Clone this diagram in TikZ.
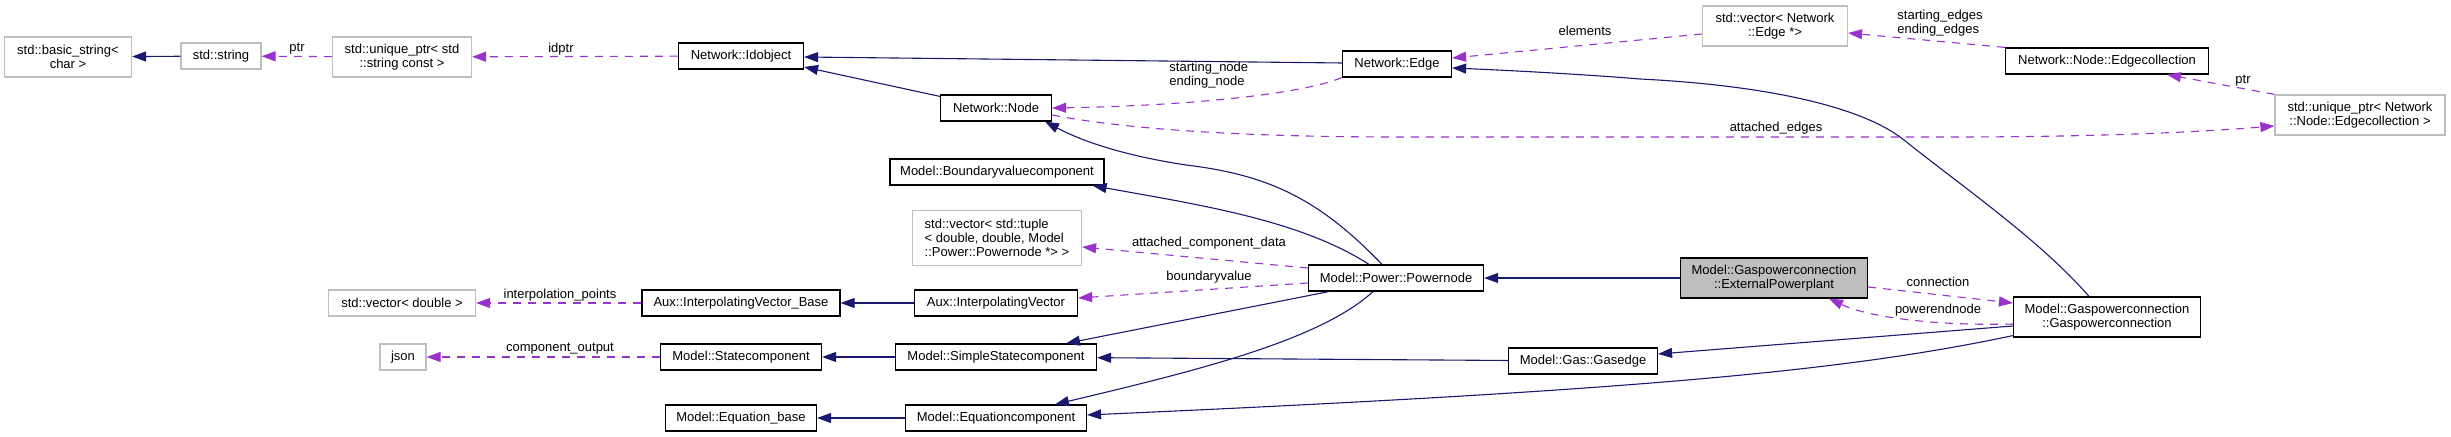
\documentclass[tikz,border=0pt]{standalone}
\usepackage{fontspec}
\setmainfont{Liberation Sans}
\usetikzlibrary{arrows.meta,calc}
\definecolor{navy}{HTML}{191970}
\definecolor{orchid}{HTML}{9A32CD}
\definecolor{lgray}{HTML}{BFBFBF}
\begin{document}
\begin{tikzpicture}[x=0.5pt,y=-0.5pt,
  every node/.style={font=\fontsize{6.5pt}{7pt}\selectfont, inner sep=0pt},
  box/.style={draw, rectangle, align=center},
  doc/.style={box, draw=black, line width=0.6pt},
  ext/.style={box, draw=lgray, line width=0.6pt},
  wh/.style 2 args={minimum width=#1*0.5pt, minimum height=#2*0.5pt},
  inh/.style={draw=navy, line width=0.55pt, -{Triangle[length=7pt,width=5pt]}},
  use/.style={draw=orchid, line width=0.55pt, dash pattern=on 4pt off 3.5pt, -{Triangle[length=7pt,width=5pt]}},
  lbl/.style={align=left}
]
\useasboundingbox (0,0) rectangle (2451,437);
% nodes
\node[ext,wh={127}{40}] (bstr) at (68,57) {std::basic\_string<\\char >};
\node[ext,wh={80}{26}] (str) at (221,56) {std::string};
\node[ext,wh={139}{40}] (uptrs) at (402,57) {std::unique\_ptr< std\\::string const >};
\node[doc,wh={125}{26}] (idobj) at (741,56) {Network::Idobject};
\node[doc,wh={109}{26}] (edge) at (1397,64) {Network::Edge};
\node[doc,wh={111}{26}] (netnode) at (996,108) {Network::Node};
\node[ext,wh={145}{40}] (vecedge) at (1775,26) {std::vector< Network\\::Edge *>};
\node[doc,wh={203}{26}] (edgecoll) at (2107,61) {Network::Node::Edgecollection};
\node[ext,wh={170}{40}] (uptrec) at (2360,115) {std::unique\_ptr< Network\\::Node::Edgecollection >};
\node[doc,wh={214}{26}] (bvc) at (997,172) {Model::Boundaryvaluecomponent};
\node[ext,wh={169}{55},align=left] (vectuple) at (997,238) {std::vector< std::tuple\\< double, double, Model\\::Power::Powernode *> >};
\node[doc,wh={175}{26}] (pnode) at (1396,278) {Model::Power::Powernode};
\node[doc,wh={187}{40},fill=lgray] (extpp) at (1774,278) {Model::Gaspowerconnection\\::ExternalPowerplant};
\node[doc,wh={187}{40}] (gpc) at (2107,317) {Model::Gaspowerconnection\\::Gaspowerconnection};
\node[ext,wh={147}{26}] (vecdbl) at (402,303) {std::vector< double >};
\node[doc,wh={198}{26}] (ivbase) at (741,303) {Aux::InterpolatingVector\_Base};
\node[doc,wh={163}{26}] (iv) at (996,303) {Aux::InterpolatingVector};
\node[ext,wh={46}{26}] (json) at (403,357) {json};
\node[doc,wh={161}{26}] (statec) at (741,357) {Model::Statecomponent};
\node[doc,wh={201}{26}] (sstate) at (996,357) {Model::SimpleStatecomponent};
\node[doc,wh={149}{26}] (gasedge) at (1583,361) {Model::Gas::Gasedge};
\node[doc,wh={151}{26}] (eqbase) at (741,418) {Model::Equation\_base};
\node[doc,wh={181}{26}] (eqcomp) at (996,418) {Model::Equationcomponent};
% connectors
\draw[inh] (str) -- (bstr);
\draw[use] (uptrs) -- (str);
\draw[use] (idobj) -- (uptrs);
\draw[inh] ($(edge.west)+(0,-1)$) -- ($(idobj.east)+(0,1)$);
\draw[inh] ($(netnode.north west)+(0,2)$) -- ($(idobj.east)+(0,11)$);
\draw[use] (edge.south west) .. controls (1300,95) and (1180,106) .. (netnode.east);
\draw[use] ($(vecedge.west)+(0,8)$) -- ($(edge.east)+(0,-6)$);
\draw[inh] ($(gpc.north)+(-18,0)$) .. controls (2040,240) and (1960,185) .. (1904,140)
  .. controls (1860,105) and (1760,85) .. (1640,79)
  .. controls (1580,74) and (1500,70) .. ($(edge.east)+(0,4)$);
\draw[use] (edgecoll.north west) -- ($(vecedge.east)+(0,7)$);
\draw[use] (uptrec.north west) -- ($(edgecoll.south)+(60,0)$);
\draw[use] ($(netnode.east)+(0,7)$) .. controls (1130,130) and (1250,137) .. (1400,137)
  -- (1950,137) .. controls (2100,137) and (2200,132) .. ($(uptrec.west)+(0,11)$);
\draw[inh] ($(pnode.north)+(-14,0)$) .. controls (1320,200) and (1270,175) .. (1186,165)
  .. controls (1120,155) and (1080,140) .. ($(netnode.south)+(49,0)$);
\draw[inh] ($(pnode.north)+(-27,0)$) .. controls (1300,220) and (1200,205) .. ($(bvc.south east)+(-12,0)$);
\draw[use] ($(pnode.west)+(0,-10)$) -- ($(vectuple.east)+(0,9)$);
\draw[use] ($(pnode.west)+(0,5)$) -- ($(iv.east)+(0,-5)$);
\draw[inh] ($(pnode.south west)+(21,0)$) -- ($(sstate.north)+(70,0)$);
\draw[inh] ($(pnode.south)+(-23,0)$) .. controls (1320,340) and (1200,370) .. ($(eqcomp.north)+(59,0)$);
\draw[inh] (extpp) -- (pnode);
\draw[use] ($(extpp.east)+(0,9)$) -- ($(gpc.west)+(0,-14)$);
\draw[use] ($(gpc.west)+(0,7)$) .. controls (1940,326) and (1870,318) .. ($(extpp.south)+(55,0)$);
\draw[inh] ($(gpc.west)+(0,9)$) -- ($(gasedge.east)+(0,-7)$);
\draw[inh] ($(gpc.south west)+(0,-2)$) .. controls (1850,370) and (1650,390) .. ($(eqcomp.east)+(0,-3)$);
\draw[inh] (iv) -- (ivbase);
\draw[inh] (sstate) -- (statec);
\draw[inh] (gasedge) -- (sstate);
\draw[inh] (eqcomp) -- (eqbase);
\draw[use] (ivbase) -- (vecdbl);
\draw[use] (statec) -- (json);
% labels
\node[lbl] (lptr) at (297,49) {ptr};
\node[lbl] (lidptr) at (561,49) {idptr};
\node[lbl,anchor=west] (lsn) at (1169,75.5) {starting\_node\\ending\_node};
\node[lbl] (lel) at (1585,31) {elements};
\node[lbl,anchor=west] (lse) at (1897,23.5) {starting\_edges\\ending\_edges};
\node[lbl] (lptr2) at (2243,81) {ptr};
\node[lbl] (lae) at (1776,128) {attached\_edges};
\node[lbl] (lacd) at (1209,243) {attached\_component\_data};
\node[lbl] (lbv) at (1209,277) {boundaryvalue};
\node[lbl] (lip) at (560,295) {interpolation\_points};
\node[lbl] (lco) at (560,349) {component\_output};
\node[lbl] (lconn) at (1938,282) {connection};
\node[lbl] (lpen) at (1938,310) {powerendnode};
\end{tikzpicture}
\end{document}
